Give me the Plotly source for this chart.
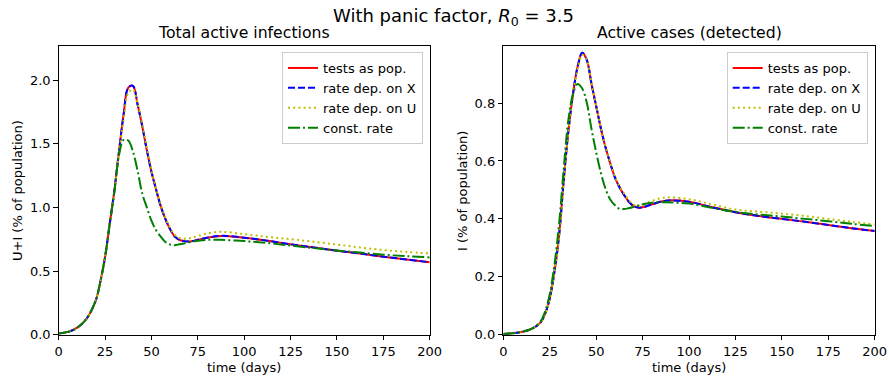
import plotly.graph_objects as go

# ---------------- data ----------------
t_days = [0, 5, 10, 15, 20, 22.5, 25, 27.5, 30, 32.5, 35, 37.5, 40, 42.5, 45, 47.5,
          50, 52.5, 55, 57.5, 60, 62.5, 65, 67.5, 70, 72.5, 75, 80, 87.5, 100, 112.5, 125,
          137.5, 150, 162.5, 175, 187.5, 200]

series_names = ["tests as pop.", "rate dep. on X", "rate dep. on U", "const. rate"]

# Left panel: U+I (% of population)
total_tests_pop = [0.010, 0.022, 0.055, 0.125, 0.27, 0.42, 0.61, 0.87, 1.13, 1.44, 1.73, 1.94,
                   1.955, 1.81, 1.64, 1.45, 1.28, 1.14, 1.01, 0.91, 0.83, 0.772, 0.745, 0.735,
                   0.732, 0.737, 0.745, 0.762, 0.776, 0.762, 0.738, 0.710, 0.685, 0.660,
                   0.637, 0.613, 0.591, 0.569]
total_rate_X = [0.010, 0.022, 0.055, 0.125, 0.27, 0.42, 0.61, 0.87, 1.13, 1.44, 1.73, 1.94,
                1.955, 1.81, 1.64, 1.45, 1.28, 1.14, 1.01, 0.91, 0.83, 0.772, 0.745, 0.735,
                0.732, 0.737, 0.745, 0.762, 0.776, 0.762, 0.738, 0.710, 0.685, 0.660,
                0.637, 0.613, 0.591, 0.569]
total_rate_U = [0.010, 0.022, 0.055, 0.125, 0.27, 0.42, 0.61, 0.87, 1.12, 1.42, 1.69, 1.90,
                1.925, 1.82, 1.65, 1.46, 1.29, 1.15, 1.02, 0.92, 0.84, 0.785, 0.760, 0.753,
                0.755, 0.764, 0.775, 0.795, 0.808, 0.790, 0.768, 0.750, 0.730, 0.708,
                0.685, 0.665, 0.650, 0.638]
total_const = [0.010, 0.022, 0.055, 0.125, 0.27, 0.42, 0.61, 0.87, 1.12, 1.41, 1.53, 1.525,
               1.44, 1.29, 1.11, 1.00, 0.895, 0.82, 0.770, 0.728, 0.708, 0.703, 0.710, 0.717,
               0.725, 0.732, 0.737, 0.745, 0.745, 0.735, 0.720, 0.700, 0.680, 0.662,
               0.645, 0.628, 0.617, 0.607]

# Right panel: I (% of population)
det_tests_pop = [0.002, 0.005, 0.010, 0.019, 0.042, 0.072, 0.125, 0.215, 0.34, 0.53, 0.70, 0.83,
                 0.925, 0.974, 0.948, 0.866, 0.79, 0.714, 0.648, 0.594, 0.545, 0.510, 0.483,
                 0.460, 0.445, 0.439, 0.440, 0.450, 0.463, 0.459, 0.440, 0.423, 0.410,
                 0.400, 0.390, 0.379, 0.368, 0.358]
det_rate_X = [0.002, 0.005, 0.010, 0.019, 0.042, 0.072, 0.125, 0.215, 0.34, 0.53, 0.70, 0.83,
              0.925, 0.974, 0.948, 0.866, 0.79, 0.714, 0.648, 0.594, 0.545, 0.510, 0.483,
              0.460, 0.445, 0.439, 0.440, 0.450, 0.463, 0.459, 0.440, 0.423, 0.410,
              0.400, 0.390, 0.379, 0.368, 0.358]
det_rate_U = [0.002, 0.005, 0.010, 0.019, 0.042, 0.072, 0.125, 0.212, 0.335, 0.525, 0.695, 0.825,
              0.918, 0.967, 0.948, 0.868, 0.792, 0.716, 0.650, 0.596, 0.548, 0.513, 0.488,
              0.465, 0.450, 0.445, 0.448, 0.462, 0.474, 0.468, 0.450, 0.432, 0.425,
              0.418, 0.410, 0.400, 0.390, 0.381]
det_const = [0.002, 0.005, 0.010, 0.020, 0.045, 0.080, 0.14, 0.24, 0.38, 0.57, 0.74, 0.83,
             0.866, 0.85, 0.80, 0.71, 0.63, 0.56, 0.505, 0.468, 0.448, 0.435, 0.434,
             0.437, 0.441, 0.446, 0.450, 0.456, 0.457, 0.453, 0.438, 0.424, 0.415,
             0.408, 0.400, 0.392, 0.383, 0.375]

x_ticks = [0, 25, 50, 75, 100, 125, 150, 175, 200]
left_y_ticks = [0.0, 0.5, 1.0, 1.5, 2.0]
right_y_ticks = [0.0, 0.2, 0.4, 0.6, 0.8]

suptitle = "With panic factor, <i>R</i><sub>0</sub> = 3.5"
left_title = "Total active infections"
right_title = "Active cases (detected)"
x_label = "time (days)"
left_y_label = "U+I (% of population)"
right_y_label = "I (% of population)"

# ---------------- styles ----------------
W, H = 889, 376
FONT = "DejaVu Sans"
styles = [
    dict(color="#ff0000", dash="solid"),
    dict(color="#0000ff", dash="7px,3px"),
    dict(color="#bfbf00", dash="2px,3.2px"),
    dict(color="#008000", dash="12px,3px,2px,3px"),
]

fig = go.Figure()

left_data = [total_tests_pop, total_rate_X, total_rate_U, total_const]
right_data = [det_tests_pop, det_rate_X, det_rate_U, det_const]

for name, ys, st in zip(series_names, left_data, styles):
    fig.add_trace(go.Scatter(x=t_days, y=ys, name=name, mode="lines",
                             line=dict(color=st["color"], dash=st["dash"], width=2,
                                       shape="spline", smoothing=1.0),
                             xaxis="x", yaxis="y", legend="legend"))
for name, ys, st in zip(series_names, right_data, styles):
    fig.add_trace(go.Scatter(x=t_days, y=ys, name=name, mode="lines",
                             line=dict(color=st["color"], dash=st["dash"], width=2,
                                       shape="spline", smoothing=1.0),
                             xaxis="x2", yaxis="y2", legend="legend2"))

def px_x(p):
    return p / W

def px_y(p):
    return (H - p) / H

L0, L1 = 58.7, 429.7
R0, R1 = 503.3, 874.7
T0, B0 = 46.3, 334.7

axis_common = dict(showline=True, linecolor="black", linewidth=1, mirror=True,
                   ticks="outside", ticklen=4.5, tickwidth=1, tickcolor="black",
                   showgrid=False, zeroline=False, automargin=False,
                   tickfont=dict(family=FONT, size=13, color="black"))

fig.update_layout(
    width=W, height=H,
    margin=dict(l=0, r=0, t=0, b=0),
    paper_bgcolor="white", plot_bgcolor="white",
    font=dict(family=FONT, size=13, color="black"),
    xaxis=dict(domain=[px_x(L0), px_x(L1)], range=[0, 200], tickvals=x_ticks,
               anchor="y", **axis_common),
    yaxis=dict(domain=[px_y(B0), px_y(T0)], range=[0, 2.265], tickvals=left_y_ticks,
               tickformat=".1f", anchor="x", **axis_common),
    xaxis2=dict(domain=[px_x(R0), px_x(R1)], range=[0, 200], tickvals=x_ticks,
                anchor="y2", **axis_common),
    yaxis2=dict(domain=[px_y(B0), px_y(T0)], range=[0, 0.996], tickvals=right_y_ticks,
                tickformat=".1f", anchor="x2", **axis_common),
    legend=dict(x=px_x(423), y=px_y(52), xanchor="right", yanchor="top",
                bgcolor="white", bordercolor="#cccccc", borderwidth=1,
                font=dict(family=FONT, size=13, color="black"), itemwidth=30,
                tracegroupgap=0),
    legend2=dict(x=px_x(867.7), y=px_y(52), xanchor="right", yanchor="top",
                 bgcolor="white", bordercolor="#cccccc", borderwidth=1,
                 font=dict(family=FONT, size=13, color="black"), itemwidth=30,
                 tracegroupgap=0),
    showlegend=True,
)

ann_font = dict(family=FONT, color="black")
annotations = [
    dict(text=suptitle, x=px_x(453), y=px_y(17), font=dict(size=18, **ann_font)),
    dict(text=left_title, x=px_x((L0 + L1) / 2), y=px_y(32), font=dict(size=15.7, **ann_font)),
    dict(text=right_title, x=px_x((R0 + R1) / 2), y=px_y(32), font=dict(size=15.7, **ann_font)),
    dict(text=x_label, x=px_x((L0 + L1) / 2), y=px_y(367), font=dict(size=13, **ann_font)),
    dict(text=x_label, x=px_x((R0 + R1) / 2), y=px_y(367), font=dict(size=13, **ann_font)),
    dict(text=left_y_label, x=px_x(17.5), y=px_y((T0 + B0) / 2), textangle=-90,
         font=dict(size=13, **ann_font)),
    dict(text=right_y_label, x=px_x(462.5), y=px_y((T0 + B0) / 2), textangle=-90,
         font=dict(size=13, **ann_font)),
]
for a in annotations:
    a.update(xref="paper", yref="paper", showarrow=False, xanchor="center", yanchor="middle")
fig.update_layout(annotations=annotations)

fig.write_html("out.html")
